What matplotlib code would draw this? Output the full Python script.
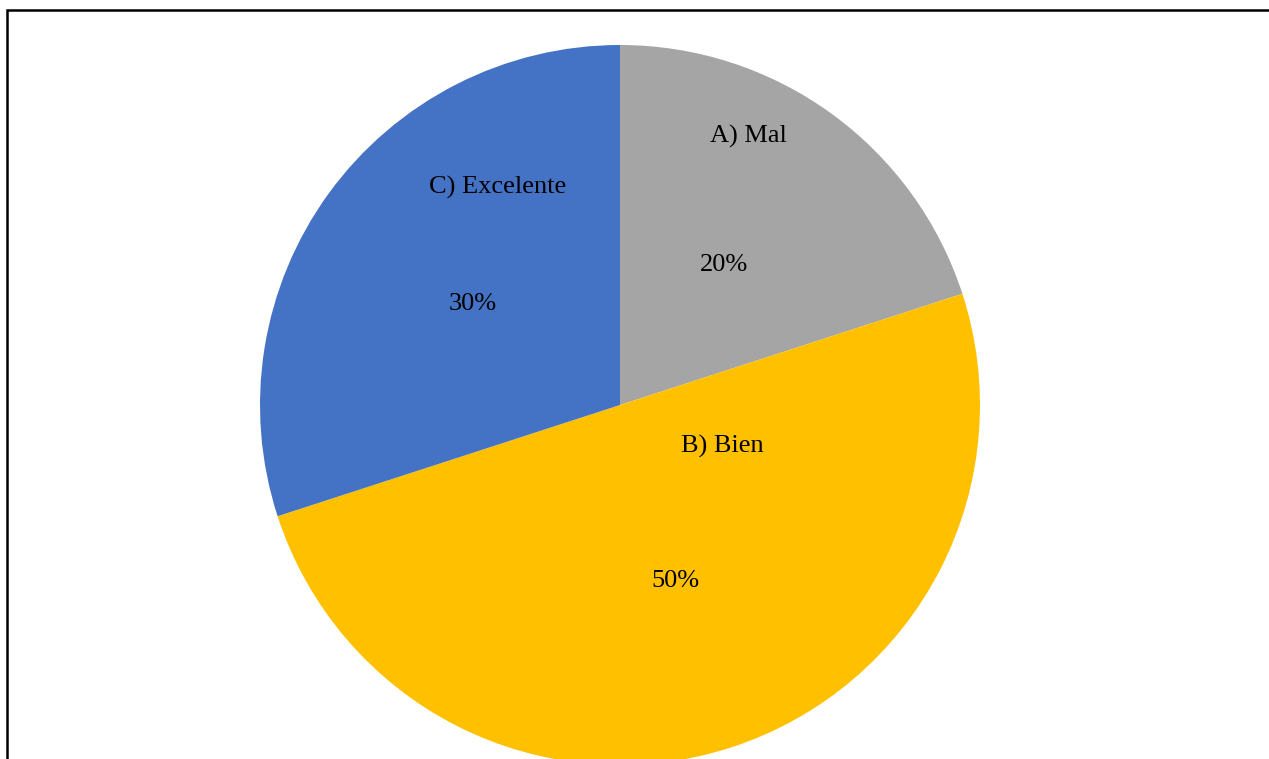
import matplotlib
matplotlib.use("Agg")
import matplotlib.pyplot as plt
from matplotlib.patches import Rectangle

# Survey results
categories = ["A) Mal", "B) Bien", "C) Excelente"]
shares = [20, 50, 30]
pct_labels = ["20%", "50%", "30%"]
colors = ["#A5A5A5", "#FFC000", "#4472C4"]

# Label placement inside each slice (in units of the pie radius)
name_pos = [(0.358, 0.745), (0.283, -0.114), (-0.339, 0.603)]
pct_pos = [(0.289, 0.389), (0.153, -0.489), (-0.408, 0.281)]

W, H = 1269, 759
fig = plt.figure(figsize=(W / 100, H / 100), dpi=100)
fig.patch.set_facecolor("white")

cx, cy, r = 620, 405, 360
ax = fig.add_axes([(cx - r) / W, (H - cy - r) / H, 2 * r / W, 2 * r / H])
ax.set_xlim(-1, 1)
ax.set_ylim(-1, 1)
ax.set_aspect("equal")
ax.axis("off")

ax.pie(shares, colors=colors, startangle=90, counterclock=False, radius=1,
       wedgeprops=dict(linewidth=0, antialiased=True))
ax.set_xlim(-1, 1)
ax.set_ylim(-1, 1)

font = dict(family="Liberation Serif", fontsize=19, color="black",
            ha="center", va="center")
for name, pct, (nx, ny), (px, py) in zip(categories, pct_labels, name_pos, pct_pos):
    ax.text(nx, ny, name, **font)
    ax.text(px, py, pct, **font)

# Chart frame (left and top edges visible)
fig.patches.append(Rectangle((7 / W, -0.1), 1.2, 1 - 9.5 / H + 0.1,
                             transform=fig.transFigure, fill=False,
                             edgecolor="black", linewidth=1.8, clip_on=False))

fig.savefig("out.png", dpi=100, facecolor="white")
